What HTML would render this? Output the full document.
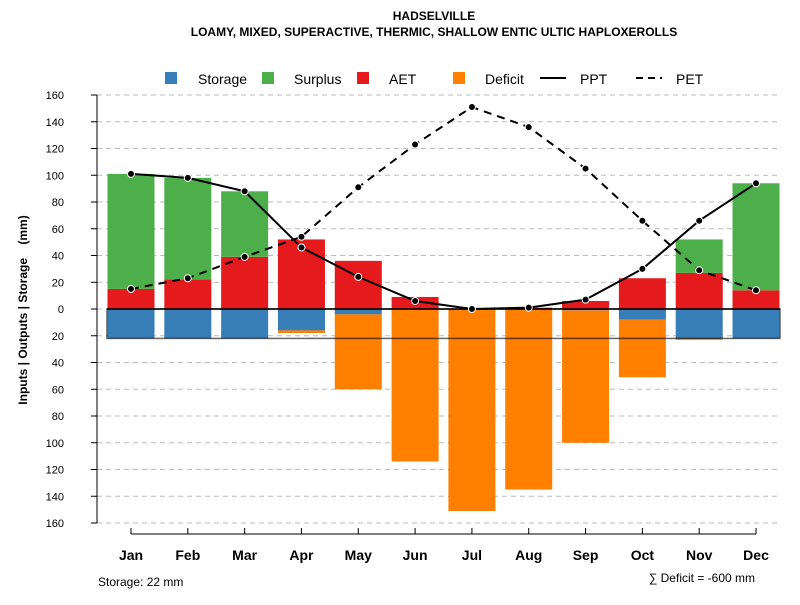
<!DOCTYPE html>
<html><head><meta charset="utf-8"><style>
body{margin:0;background:#fff}
svg text{font-family:"Liberation Sans",Arial,sans-serif}
</style></head><body>
<svg id="chart" width="800" height="600" viewBox="0 0 800 600" xmlns="http://www.w3.org/2000/svg">
<text x="434" y="20" text-anchor="middle" font-size="12" font-weight="bold">HADSELVILLE</text>
<text x="434" y="36" text-anchor="middle" font-size="12" font-weight="bold">LOAMY, MIXED, SUPERACTIVE, THERMIC, SHALLOW ENTIC ULTIC HAPLOXEROLLS</text>
<text transform="translate(27,310) rotate(-90)" text-anchor="middle" font-size="12" font-weight="bold">Inputs | Outputs | Storage&#160;&#160;&#160;&#160;(mm)</text>
<g id="grid"></g><g id="bars"></g><g id="overlay"></g><g id="axes"></g>
<g font-size="14">
<rect x="165" y="72" width="12" height="12" fill="#377eb8"/>
<text x="198" y="84">Storage</text>
<rect x="262" y="72" width="12" height="12" fill="#4daf4a"/>
<text x="294" y="84">Surplus</text>
<rect x="357" y="72" width="12" height="12" fill="#e41a1c"/>
<text x="389" y="84">AET</text>
<rect x="453" y="72" width="12" height="12" fill="#ff7f00"/>
<text x="485" y="84">Deficit</text>
<line x1="540" y1="78" x2="566" y2="78" stroke="#000" stroke-width="2"/>
<text x="580" y="84">PPT</text>
<line x1="636" y1="78" x2="662" y2="78" stroke="#000" stroke-width="2" stroke-dasharray="7,5"/>
<text x="676" y="84">PET</text>
</g>
<text x="98" y="586" font-size="12">Storage: 22 mm</text>
<text x="755" y="582" text-anchor="end" font-size="12">∑ Deficit = -600 mm</text>
</svg>
<script>
const months=["Jan","Feb","Mar","Apr","May","Jun","Jul","Aug","Sep","Oct","Nov","Dec"];
const ppt=[101,98,88,46,24,6,0,1,7,30,66,94];
const pet=[15,23,39,54,91,123,151,136,105,66,29,14];
const aet=[15,22,39,52,36,9,0,1,6,23,27,14];
const surplus=[86,76,49,0,0,0,0,0,0,0,25,80];
const storageUse=[22,22,22,16,4,0,0,0,1,8,22,22];
const deficit=[0,0,0,2,56,114,151,135,99,43,1,0];
const yTicks=[160,140,120,100,80,60,40,20,0,-20,-40,-60,-80,-100,-120,-140,-160];
const storageCap=22;
const NS="http://www.w3.org/2000/svg";
const y=v=>309-v*1.3375;
const x=i=>131+i*56.82;
const bw=47;
function mk(p,t,a){const e=document.createElementNS(NS,t);for(const k in a)e.setAttribute(k,a[k]);p.appendChild(e);return e;}
const grid=document.getElementById('grid'),bars=document.getElementById('bars'),ov=document.getElementById('overlay'),ax=document.getElementById('axes');
mk(ax,'line',{x1:97,y1:y(160),x2:97,y2:y(-160),stroke:'#000'});
yTicks.forEach(t=>{
 const g=mk(grid,'line',{x1:97,x2:780,y1:y(t),y2:y(t),stroke:'#bbb','stroke-dasharray':'5,4'});
 
 
 mk(ax,'line',{x1:91,x2:97,y1:y(t),y2:y(t),stroke:'#000'});
 const tx=mk(ax,'text',{x:64,y:y(t)+4,'text-anchor':'end','font-size':11});
 tx.textContent=Math.abs(t);
 
 
});
mk(ax,'line',{x1:x(0),x2:x(11),y1:534,y2:534,stroke:'#000'});
months.forEach((m,i)=>{
 mk(ax,'line',{x1:x(i),x2:x(i),y1:528,y2:534,stroke:'#000'});
 const tx=mk(ax,'text',{x:x(i),y:560,'text-anchor':'middle','font-size':14,'font-weight':'bold'});
 tx.textContent=m;
 
 
 const L=x(i)-bw/2;
 const r1=mk(bars,'rect',{x:L,y:y(aet[i]),width:bw,height:aet[i]*1.3375,fill:'#e41a1c'});
 
 
 const r2=mk(bars,'rect',{x:L,y:y(aet[i]+surplus[i]),width:bw,height:surplus[i]*1.3375,fill:'#4daf4a'});
 
 
 const r3=mk(bars,'rect',{x:L,y:y(0),width:bw,height:storageUse[i]*1.3375,fill:'#377eb8'});
 
 
 const r4=mk(bars,'rect',{x:L,y:y(-storageUse[i]),width:bw,height:deficit[i]*1.3375,fill:'#ff7f00'});
 
 
});
const cap=mk(ov,'rect',{x:107,y:y(0),width:673,height:storageCap*1.3375,fill:'none',stroke:'rgba(0,0,0,0.6)','stroke-width':1.5});


mk(ov,'line',{x1:107,x2:780,y1:y(0),y2:y(0),stroke:'#000','stroke-width':1.5});
function series(arr,dash,name){
 const p=mk(ov,'polyline',{points:arr.map((v,i)=>x(i)+','+y(v)).join(' '),fill:'none',stroke:'#000','stroke-width':2,'stroke-dasharray':dash});
 
 
 arr.forEach((v,i)=>{
  const c=mk(ov,'circle',{cx:x(i),cy:y(v),r:3.5,fill:'#000',stroke:'#fff','stroke-width':1});
  
  
 });
}
series(pet,'8,6','pet');
series(ppt,'none','ppt');
</script>
</body></html>
